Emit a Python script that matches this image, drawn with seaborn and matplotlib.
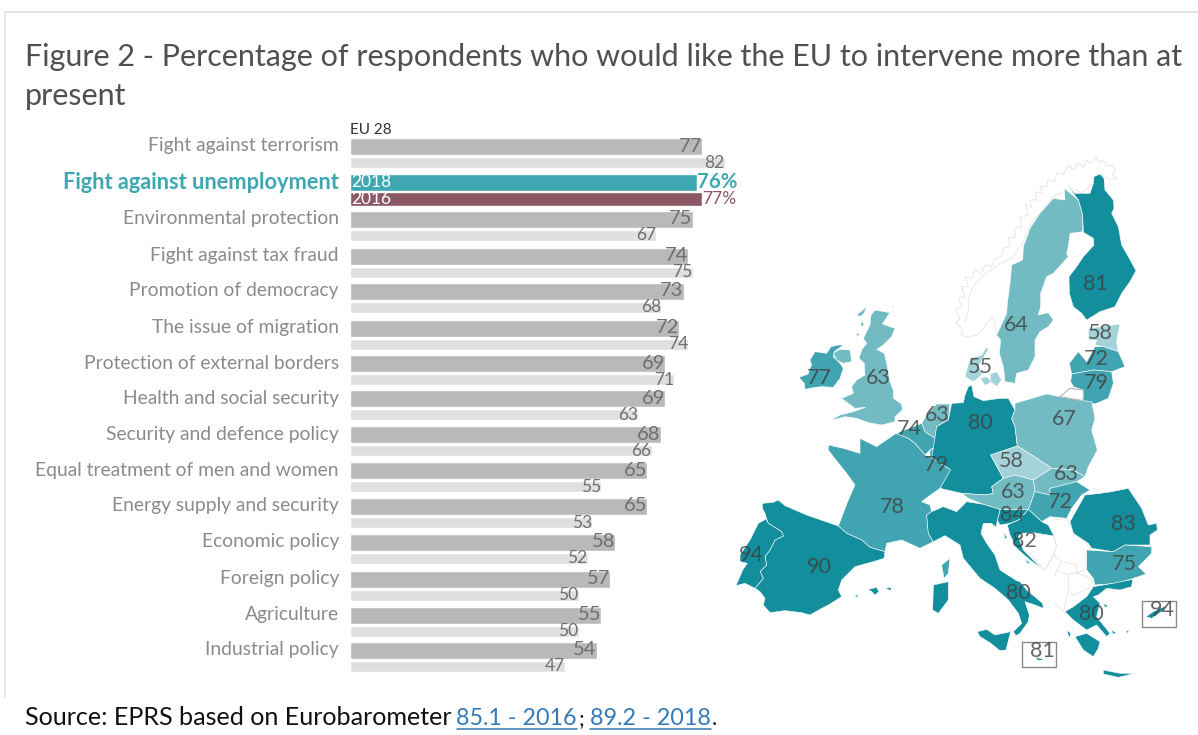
import matplotlib
matplotlib.use("Agg")
import matplotlib.pyplot as plt
import pandas as pd
import seaborn as sns

# ---- EU-wide survey results -------------------------------------------------
topics = ["Fight against terrorism", "Fight against unemployment", "Environmental protection",
          "Fight against tax fraud", "Promotion of democracy", "The issue of migration",
          "Protection of external borders", "Health and social security",
          "Security and defence policy", "Equal treatment of men and women",
          "Energy supply and security", "Economic policy", "Foreign policy",
          "Agriculture", "Industrial policy"]
values_2018 = [77, 76, 75, 74, 73, 72, 69, 69, 68, 65, 65, 58, 57, 55, 54]
values_2016 = [82, 77, 67, 75, 68, 74, 71, 63, 66, 55, 53, 52, 50, 50, 47]

# ---- National results (unemployment) ----------------------------------------
country_values = {
    "FI": 81, "SE": 64, "EE": 58, "LV": 72, "LT": 79, "DK": 55, "IE": 77, "UK": 63,
    "NL": 63, "BE": 74, "LU": 79, "DE": 80, "PL": 67, "CZ": 58, "SK": 63, "AT": 63,
    "HU": 72, "SI": 84, "HR": 82, "RO": 83, "BG": 75, "FR": 78, "ES": 90, "PT": 94,
    "IT": 80, "EL": 80, "CY": 94, "MT": 81,
}

# Simplified national outlines in map units (origin at the north-west of the map)
country_shapes = {
    "FI": [[(1042,105),(1065,130),(1085,130),(1110,130),(1120,100),(1122,80),(1140,72),(1152,85),(1155,120),(1180,150),(1182,175),(1175,190),(1195,230),(1205,285),(1225,320),(1248,362),(1230,395),(1205,430),(1185,470),(1140,485),(1100,510),(1085,490),(1060,470),(1048,430),(1047,380),(1070,350),(1090,320),(1122,285),(1120,265),(1090,247),(1088,195),(1075,150)]],
    "SE": [[(1033,115),(1075,150),(1088,195),(1088,245),(1050,250),(1045,290),(1040,310),(1045,320),(1000,370),(980,380),(962,430),(962,470),(955,495),(985,488),(1000,510),(985,530),(960,545),(945,570),(945,620),(925,660),(890,670),(885,700),(855,695),(850,650),(838,610),(842,570),(830,555),(860,490),(862,460),(870,400),(875,345),(908,330),(910,290),(930,235),(960,190),(1000,145),(1035,150)]],
    "EE": [[(1105,535),(1200,522),(1190,575),(1195,605),(1150,590),(1125,585),(1130,570),(1105,570)]],
    "LV": [[(1075,605),(1100,635),(1125,590),(1150,590),(1195,605),(1215,650),(1175,665),(1120,660),(1055,672),(1048,640)]],
    "LT": [[(1055,672),(1120,660),(1175,665),(1180,700),(1165,745),(1125,762),(1090,752),(1090,720),(1060,710),(1052,695)]],
    "DK": [[(800,590),(785,615),(750,625),(740,660),(735,680),(760,695),(780,680),(790,665),(775,650),(795,615),(805,600)],
           [(780,685),(800,680),(815,695),(795,707)],
           [(810,672),(830,665),(845,690),(830,710),(812,695)]],
    "IE": [[(270,630),(285,605),(320,610),(333,590),(355,585),(370,585),(343,605),(340,620),(360,640),(370,655),(360,685),(340,712),(305,710),(285,712),(255,718),(253,700),(237,682),(265,672),(270,655),(275,645)]],
    "UK": [[(465,480),(510,488),(487,522),(525,535),(515,560),(490,585),(470,598),(493,610),(500,640),(510,695),(520,720),(520,745),(545,762),(547,780),(525,800),(525,815),(485,825),(445,818),(410,805),(375,800),(330,812),(360,795),(400,785),(437,772),(405,775),(365,745),(400,730),(395,710),(410,690),(435,675),(433,640),(417,625),(425,600),(440,580),(430,565),(450,525),(453,495)],
           [(340,610),(360,598),(390,600),(395,635),(370,640),(350,630)],
           [(410,495),(440,470),(432,490),(420,500)], [(425,510),(433,525),(422,530)],
           [(408,548),(418,552),(413,560)], [(517,467),(523,470),(520,475)]],
    "NL": [[(605,820),(620,795),(650,762),(690,762),(685,810),(650,830),(645,865),(615,845)]],
    "BE": [[(528,850),(605,820),(615,845),(645,865),(645,890),(630,900),(615,915),(585,880),(565,865)]],
    "LU": [[(630,900),(645,895),(645,925),(630,920)]],
    "DE": [[(745,710),(755,705),(762,740),(790,752),(840,745),(865,745),(885,780),(875,805),(885,830),(892,888),(812,915),(850,985),(815,1010),(820,1030),(795,1035),(725,1030),(660,1015),(690,958),(635,925),(650,830),(685,810),(695,760),(730,758),(735,735)]],
    "PL": [[(885,760),(980,732),(1020,740),(1090,752),(1115,755),(1125,805),(1115,840),(1132,900),(1105,950),(1095,980),(1060,960),(995,955),(940,918),(892,888),(885,830),(875,805),(885,780)]],
    "CZ": [[(812,915),(892,888),(940,918),(995,955),(940,990),(885,975),(850,985)]],
    "SK": [[(940,990),(995,955),(1060,960),(1095,980),(1070,995),(990,1015),(990,1035),(945,1025)]],
    "AT": [[(725,1030),(795,1035),(820,1030),(815,1010),(850,985),(885,975),(940,990),(945,1025),(925,1078),(900,1080),(840,1078),(790,1063),(745,1045)]],
    "HU": [[(945,1025),(990,1035),(990,1015),(1070,995),(1110,1020),(1085,1035),(1055,1075),(1040,1105),(990,1100),(965,1115),(925,1078)]],
    "SI": [[(837,1092),(840,1078),(900,1080),(925,1078),(900,1108),(870,1120),(840,1125),(832,1110)]],
    "HR": [[(925,1078),(965,1115),(985,1125),(1002,1158),(940,1148),(905,1150),(895,1160),(910,1200),(968,1258),(930,1230),(890,1195),(870,1155),(862,1125),(900,1108)],
           [(915,1225),(930,1240),(922,1240)], [(850,1145),(862,1165),(855,1165)]],
    "RO": [[(1050,1115),(1095,1035),(1140,1030),(1175,1025),(1225,1015),(1265,1075),(1285,1125),(1310,1120),(1312,1140),(1290,1155),(1290,1185),(1215,1185),(1180,1205),(1115,1195),(1105,1180),(1060,1150)]],
    "BG": [[(1100,1200),(1180,1205),(1215,1185),(1295,1190),(1295,1210),(1255,1250),(1278,1272),(1240,1285),(1190,1300),(1125,1305),(1120,1285),(1100,1260)]],
    "FR": [[(325,885),(370,895),(420,910),(420,865),(470,890),(528,850),(565,865),(585,880),(615,915),(630,920),(692,960),(660,1015),(625,1040),(605,1055),(630,1065),(635,1085),(620,1095),(625,1150),(640,1175),(600,1195),(545,1170),(500,1180),(495,1205),(450,1192),(425,1170),(380,1150),(355,1128),(385,1050),(405,1005),(380,970),(340,920),(325,900)],
           [(665,1245),(690,1225),(685,1270),(672,1285)]],
    "ES": [[(127,1060),(160,1057),(175,1050),(195,1067),(260,1095),(355,1128),(380,1150),(425,1170),(450,1192),(495,1205),(492,1225),(460,1235),(405,1250),(365,1290),(355,1320),(365,1340),(325,1365),(300,1378),(270,1395),(245,1388),(195,1382),(150,1388),(130,1365),(135,1345),(120,1325),(105,1315),(130,1285),(120,1265),(140,1245),(135,1220),(150,1200),(165,1170),(190,1158),(185,1145),(145,1120),(140,1107),(135,1090),(127,1075)],
           [(445,1318),(470,1312),(477,1325),(465,1335),(455,1325)], [(495,1315),(513,1312),(513,1322)], [(403,1340),(415,1332),(412,1342)]],
    "PT": [[(138,1107),(145,1120),(185,1145),(190,1158),(165,1170),(150,1200),(135,1220),(140,1245),(120,1265),(130,1285),(105,1315),(75,1300),(48,1307),(68,1260),(82,1240),(60,1235),(60,1215),(90,1170),(115,1120)]],
    "IT": [[(620,1095),(635,1085),(670,1070),(710,1085),(740,1055),(790,1063),(840,1078),(837,1092),(832,1110),(828,1132),(815,1120),(790,1120),(783,1150),(800,1180),(825,1215),(840,1260),(890,1292),(900,1295),(920,1320),(968,1360),(970,1375),(945,1365),(915,1355),(928,1395),(925,1415),(900,1450),(888,1457),(880,1445),(905,1420),(895,1390),(865,1350),(825,1315),(780,1285),(730,1225),(720,1185),(675,1157),(640,1175),(625,1150)],
           [(640,1305),(685,1295),(685,1350),(655,1390),(638,1380)],
           [(772,1445),(800,1438),(825,1455),(872,1445),(858,1500),(840,1502),(810,1478),(780,1460)]],
    "EL": [[(1035,1385),(1060,1370),(1100,1340),(1120,1310),(1190,1298),(1238,1288),(1235,1310),(1200,1320),(1160,1315),(1135,1335),(1120,1340),(1140,1360),(1130,1400),(1170,1450),(1160,1460),(1130,1425),(1100,1440),(1060,1410)],
           [(1065,1460),(1100,1450),(1140,1475),(1135,1495),(1120,1520),(1090,1500)],
           [(1150,1560),(1200,1570),(1245,1570),(1195,1582),(1150,1572)],
           [(1040,1440),(1052,1450),(1048,1465)], [(1175,1440),(1190,1450),(1178,1452)],
           [(1218,1440),(1228,1445),(1222,1450)], [(1150,1360),(1165,1368),(1155,1372)]],
    "CY": [[(1278,1400),(1300,1385),(1320,1375),(1345,1365),(1325,1385),(1295,1405)]],
    "MT": [[(945,1522),(975,1528),(955,1532)]],
}

# Non-member countries, drawn as pale outlines only
outline_shapes = {
    "NO": [(1042,105),(1085,130),(1120,100),(1122,80),(1140,72),(1172,90),(1188,85),(1178,72),(1186,60),(1178,45),(1160,48),(1150,30),(1138,38),(1130,22),(1112,40),(1100,30),(1090,52),(1075,38),(1060,60),(1045,45),(1030,72),(1010,68),(1005,95),(985,88),(980,110),(960,110),(965,130),(945,125),(950,150),(930,150),(935,172),(915,160),(925,195),(900,200),(905,230),(885,232),(885,262),(865,262),(870,290),(850,295),(845,320),(825,325),(815,350),(795,345),(785,370),(765,360),(755,385),(735,380),(745,410),(725,410),(735,440),(715,445),(725,470),(705,480),(720,505),(708,520),(728,535),(722,555),(745,562),(770,555),(790,535),(800,520),(820,500),(830,555)],
    "NO2": [(1030,125),(1000,140),(975,170),(945,205),(925,235),(905,285),(880,320),(835,345),(790,375),(760,410),(745,445),(745,480),(735,520)],
    "RS": [(1000,1110),(1040,1105),(1060,1145),(1110,1190),(1100,1255),(1070,1270),(1070,1245),(1025,1235),(1000,1215),(1010,1190),(1002,1158)],
    "BA": [(940,1148),(1002,1158),(1010,1190),(1000,1215),(975,1260),(930,1210)],
    "ME": [(975,1260),(1000,1215),(1025,1235),(1010,1260),(1005,1275)],
    "AL": [(1005,1275),(1010,1260),(1045,1275),(1045,1320),(1030,1385),(1005,1360)],
    "MK": [(1045,1275),(1070,1268),(1115,1285),(1120,1310),(1060,1335),(1045,1320)],
}
kaliningrad = [(1020,740),(1050,715),(1090,720),(1090,752),(1020,740)]

# Label anchor for each national figure, in map units
label_anchors = {
    "FI": (1127,403), "SE": (888,525), "EE": (1140,548), "LV": (1130,628), "DK": (781,650),
    "LT": (1130,700), "IE": (297,685), "UK": (475,685), "NL": (653,795), "DE": (782,820),
    "PL": (1033,808), "BE": (567,837), "LU": (648,945), "CZ": (873,933), "SK": (1038,972),
    "AT": (880,1025), "HU": (1022,1057), "FR": (518,1070), "SI": (877,1095), "RO": (1210,1123),
    "HR": (913,1172), "PT": (93,1215), "BG": (1212,1242), "ES": (298,1252), "IT": (895,1330),
    "EL": (1113,1392), "CY": (1328,1380), "MT": (967,1502),
}
inset_boxes = [(1265,1352,1368,1430), (905,1475,1008,1552)]

# ---- Palette ----------------------------------------------------------------
GREY_2018, GREY_2016 = "#b9b9b9", "#dfdfde"
TEAL, MAROON = "#3fa7b1", "#8c5866"
LABEL_GREY, NUM_GREY = "#8b8b8b", "#6f6f6f"

def class_colour(value):
    if value >= 80:
        return "#128e9c"
    if value >= 70:
        return "#41a5b1"
    if value >= 60:
        return "#72bbc3"
    return "#a3d3d9"

sns.set_theme(style="white")
plt.rcParams["font.family"] = ["Lato", "DejaVu Sans"]

W, H = 1198, 735
fig = plt.figure(figsize=(W / 100, H / 100), dpi=100, facecolor="white")
renderer = fig.canvas.get_renderer()

def px_axes(x0, y0, x1, y1, **kw):
    return fig.add_axes([x0 / W, 1 - y1 / H, (x1 - x0) / W, (y1 - y0) / H], **kw)

def fitted_size(text_obj, width_px):
    """Font size at which text_obj spans width_px."""
    return text_obj.get_fontsize() * width_px / text_obj.get_window_extent(renderer).width

# ---- Page frame, title and source -------------------------------------------
page = px_axes(0, 0, W, H)
page.set_xlim(0, W)
page.set_ylim(H, 0)
page.axis("off")
page.plot([5, W], [12, 12], color="#dcdcdc", lw=1.2)
page.plot([5, 5], [12, 697], color="#e4e4e4", lw=1.2)
title_first = page.text(25, 57, "Figure 2 - Percentage of respondents who would like the EU to intervene more than at",
                        color="#505050", fontsize=22, va="center", ha="left")
title_first.set_fontsize(fitted_size(title_first, 1154))
page.text(25, 96, "present", color="#505050", fontsize=title_first.get_fontsize(), va="center", ha="left")

# Each run of the source line: text, whether it is a link, its width in pixels, gap after it
source_pieces = [("Source: EPRS based on Eurobarometer", False, 426, 5), ("85.1 - 2016", True, 121, 1), (";", False, 5, 6),
                 ("89.2 - 2018", True, 121, 1), (".", False, 4, 0)]
cursor = 25
for piece, link, width, gap in source_pieces:
    txt = page.text(cursor, 725, piece, color="#337ab7" if link else "#111111", fontsize=17,
                    va="baseline", ha="left")
    txt.set_fontsize(fitted_size(txt, width) if len(piece) > 1 else 15.5)
    end = cursor + txt.get_window_extent(renderer).width
    if link:
        page.plot([cursor, end], [728.5, 728.5], color="#337ab7", lw=1.1)
    cursor = end + gap

# ---- EU-28 bars --------------------------------------------------------------
ROW_PX = 35.9
row_nudge_px = [0, 0, 1, 2, 1, 2, 2, 1, 1, 1, 1, 1, 2, 2, 1]   # hand spacing of the rows
ax = px_axes(350, 120, 760, 690)
survey = pd.DataFrame({
    "topic": topics * 2,
    "share": values_2018 + values_2016,
    "year": ["2018"] * len(topics) + ["2016"] * len(topics),
})
sns.barplot(data=survey, y="topic", x="share", hue="year", hue_order=["2018", "2016"],
            palette={"2018": GREY_2018, "2016": GREY_2016}, dodge=True, legend=False, ax=ax)
ax.set_xlim(0, 410 / 4.57)
ax.set_ylim((690 - 153) / ROW_PX, (120 - 153) / ROW_PX)
ax.set_xlabel("")
ax.set_ylabel("")
ax.set_xticks([])
sns.despine(ax=ax, left=True, bottom=True)
ax.patch.set_alpha(0)

bars_2018, bars_2016 = ax.containers
for i, (top, low) in enumerate(zip(bars_2018, bars_2016)):
    row = i + row_nudge_px[i] / ROW_PX
    top.set_y(row - 15 / ROW_PX)
    top.set_height(17 / ROW_PX)
    if i == 1:
        low.set_y(row + 3 / ROW_PX)
        low.set_height(14 / ROW_PX)
        top.set_facecolor(TEAL)
        low.set_facecolor(MAROON)
        ax.text(values_2018[i], row - 6.5 / ROW_PX, f"{values_2018[i]}%", color=TEAL,
                fontsize=14.7, fontweight="bold", va="center", ha="left")
        ax.text(values_2016[i], row + 10 / ROW_PX, f"{values_2016[i]}%", color=MAROON,
                fontsize=12.5, va="center", ha="left")
        ax.text(0.2, row - 7 / ROW_PX, "2018", color="white", fontsize=12.5, va="center", ha="left")
        ax.text(0.2, row + 10 / ROW_PX, "2016", color="white", fontsize=12.5, va="center", ha="left")
    else:
        low.set_y(row + 4 / ROW_PX)
        low.set_height(11 / ROW_PX)
        ax.text(values_2018[i], row - 7 / ROW_PX, str(values_2018[i]), color=NUM_GREY,
                fontsize=14.5, va="center", ha="right")
        ax.text(values_2016[i], row + 9.5 / ROW_PX, str(values_2016[i]), color=NUM_GREY,
                fontsize=12.5, va="center", ha="right")

ax.set_yticks([i + (row_nudge_px[i] - 8.5) / ROW_PX for i in range(len(topics))], topics)
ax.tick_params(axis="y", length=0, pad=8)
for i, tick in enumerate(ax.get_yticklabels()):
    tick.set_fontsize(15.66 if i == 1 else 13.85)
    tick.set_color(TEAL if i == 1 else LABEL_GREY)
    if i == 1:
        tick.set_fontweight("bold")
ax.text(0, -0.64, "EU 28", color="#333333", fontsize=11, va="center", ha="left")

# ---- Choropleth ---------------------------------------------------------------
m = px_axes(720, 150, 1198, 700)
m.set_xlim(0, 1434)
m.set_ylim(1650, 0)
m.axis("off")
m.patch.set_alpha(0)
for name, ring in outline_shapes.items():
    xs, ys = zip(*ring)
    m.plot(xs, ys, color="#e8e8e8", lw=0.7, zorder=1)
xs, ys = zip(*kaliningrad)
m.plot(xs, ys, color="#bdbdbd", lw=0.9, zorder=3)
for code, parts in country_shapes.items():
    colour = class_colour(country_values[code])
    for part in parts:
        xs, ys = zip(*part)
        m.fill(xs, ys, facecolor=colour, edgecolor="white", lw=0.4, zorder=2)
for x0, y0, x1, y1 in inset_boxes:
    m.plot([x0, x1, x1, x0, x0], [y0, y0, y1, y1, y0], color="#8a8a8a", lw=1, zorder=3)
for code, (x, y) in label_anchors.items():
    m.text(x, y, str(country_values[code]), color="#3f3f3f", alpha=0.8, fontsize=15.5,
           ha="center", va="center", zorder=4)

fig.savefig("out.png", dpi=100, facecolor="white")
